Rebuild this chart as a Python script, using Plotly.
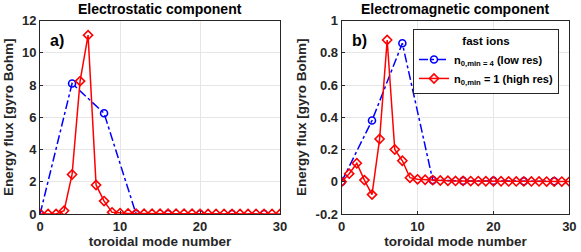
import plotly.graph_objects as go
from plotly.subplots import make_subplots

# Data
n_low = [0, 4, 8, 12, 16, 20, 24, 28]
es_low = [0, 8.1, 6.25, 0, 0, 0, 0, 0]
em_low = [0, 0.38, 0.86, 0.01, 0.005, 0.005, 0.003, 0.003]

n_high = list(range(0, 31))
es_high = [0, 0, 0, 0.2, 2.45, 8.25, 11.1, 1.8, 0.8, 0.1, 0.05, 0.03, 0.02, 0.01,
           0.01, 0.01, 0.01, 0.01, 0.01, 0.01, 0, 0, 0, 0, 0, 0, 0, 0, 0, 0, 0]
em_high = [0, 0.05, 0.115, 0.01, -0.08, 0.265, 0.88, 0.2, 0.13, 0.025, 0.015, 0.012,
           0.01, 0.008, 0.006, 0.005, 0.005, 0.004, 0.004, 0.003, 0.003, 0.003, 0.002,
           0.002, 0.002, 0.002, 0.002, 0.001, 0.001, 0.001, 0.001]

titles = ["Electrostatic component", "Electromagnetic component"]
panel_labels = ["a)", "b)"]
legend_names = ["n<sub>0,min = 4</sub> (low res)", "n<sub>0,min</sub> = 1 (high res)"]

FONT = "Liberation Sans"
fig = make_subplots(rows=1, cols=2)

for col, (lo, hi) in enumerate([(es_low, es_high), (em_low, em_high)], start=1):
    show = col == 2
    fig.add_trace(go.Scatter(x=n_low, y=lo, mode="lines+markers", name=legend_names[0],
                             line=dict(color="#0000ff", width=1.5, dash="dashdot"),
                             marker=dict(symbol="circle-open", size=7, color="#0000ff",
                                         line=dict(width=1.6)),
                             showlegend=show), row=1, col=col)
    fig.add_trace(go.Scatter(x=n_high, y=hi, mode="lines+markers", name=legend_names[1],
                             line=dict(color="#ff0000", width=1.5),
                             marker=dict(symbol="diamond-open", size=7, color="#ff0000",
                                         line=dict(width=1.6)),
                             showlegend=show), row=1, col=col)

axcommon = dict(showline=True, linecolor="#262626", linewidth=1, mirror=True,
                showgrid=True, gridcolor="#e6e6e6", zeroline=False, ticks="inside",
                ticklen=3, tickcolor="#262626", automargin=False,
                tickfont=dict(family=FONT, size=13, color="#262626", weight="bold"))

fig.update_xaxes(range=[0, 30], tickvals=[0, 10, 20, 30],
                 title=dict(text="toroidal mode number", standoff=3,
                            font=dict(family=FONT, size=13.5, color="#262626", weight="bold")),
                 **axcommon)
fig.update_yaxes(title=dict(text="Energy flux [gyro Bohm]", standoff=5,
                            font=dict(family=FONT, size=13.5, color="#262626", weight="bold")),
                 **axcommon)
fig.update_layout(
    xaxis=dict(domain=[0.069, 0.482]),
    xaxis2=dict(domain=[0.588, 0.980]),
    yaxis=dict(domain=[0.151, 0.918], range=[0, 12], tickvals=[0, 2, 4, 6, 8, 10, 12]),
    yaxis2=dict(domain=[0.151, 0.918], range=[-0.2, 1],
                tickvals=[-0.2, 0, 0.2, 0.4, 0.6, 0.8, 1],
                ticktext=["-0.2", "0", "0.2", "0.4", "0.6", "0.8", "1"]),
)

for i, (t, lab) in enumerate(zip(titles, panel_labels)):
    xd = [0.2755, 0.784][i]
    fig.add_annotation(text=t, xref="paper", yref="paper", x=xd, y=0.925,
                       xanchor="center", yanchor="bottom", showarrow=False,
                       font=dict(family=FONT, size=14, color="#000000", weight="bold"))
    fig.add_annotation(text=lab, xref=f"x{'' if i == 0 else '2'} domain",
                       yref=f"y{'' if i == 0 else '2'} domain", x=0.035, y=0.95,
                       xanchor="left", yanchor="top", showarrow=False,
                       font=dict(family=FONT, size=16, color="#000000", weight="bold"))

# separator line under legend title
fig.add_shape(type="line", xref="paper", yref="paper", x0=421/581, x1=559/581,
              y0=1-45/252, y1=1-45/252, line=dict(color="#262626", width=1))

fig.update_layout(
    width=581, height=252, margin=dict(l=0, r=0, t=0, b=0),
    paper_bgcolor="white", plot_bgcolor="white",
    font=dict(family=FONT, color="#262626"),
    legend=dict(x=559/581, xanchor="right", y=1-29/252, yanchor="top",
                bgcolor="white", bordercolor="#262626", borderwidth=1,
                title=dict(text="fast ions", side="top center",
                           font=dict(family=FONT, size=11.5, color="#000000", weight="bold")),
                font=dict(family=FONT, size=11, color="#000000", weight="bold"),
                itemwidth=30, tracegroupgap=0),
)

fig.write_html("out.html", config={"displayModeBar": False},
               post_script="document.body.style.margin='0';document.body.style.overflow='hidden';")
